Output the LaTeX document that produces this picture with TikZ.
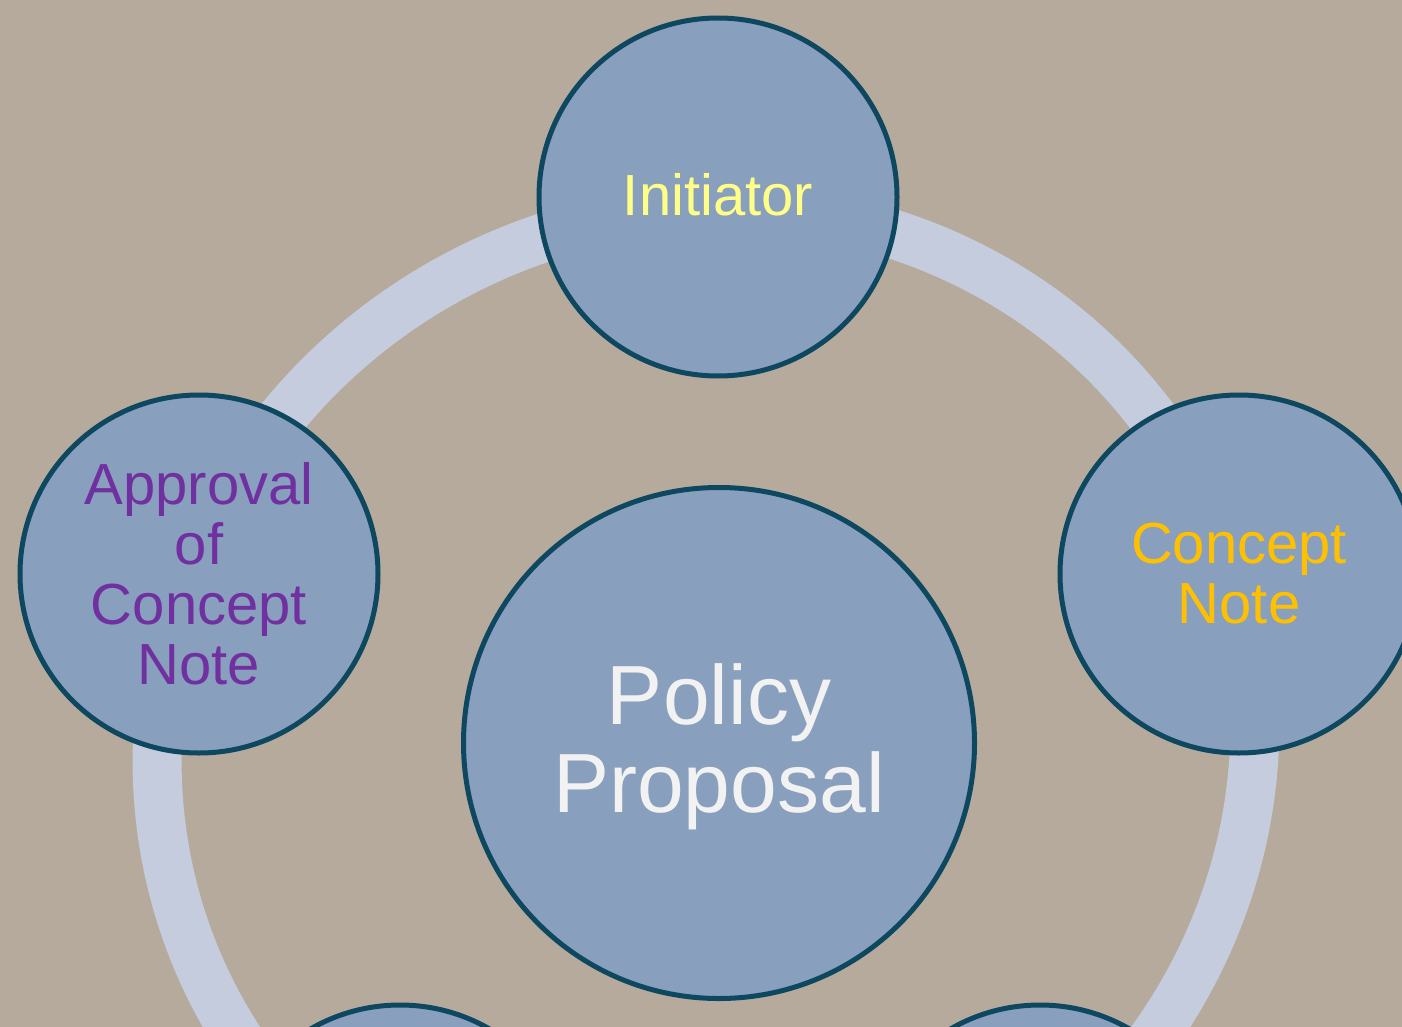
\documentclass[tikz,border=0pt]{standalone}
\usepackage{fontspec}
\setmainfont{Liberation Sans}
\definecolor{bg}{RGB}{181,170,156}
\definecolor{ringc}{RGB}{197,204,221}
\definecolor{nodefill}{RGB}{137,159,190}
\definecolor{nodeline}{RGB}{14,72,96}
\definecolor{tyellow}{RGB}{255,255,136}
\definecolor{tgold}{RGB}{255,192,0}
\definecolor{tpurple}{RGB}{112,48,160}
\definecolor{twhite}{RGB}{242,242,242}
\begin{document}
\begin{tikzpicture}[x=1pt,y=-1pt,
  bubble/.style={circle, fill=nodefill, draw=nodeline, line width=5pt, minimum size=358pt, inner sep=0pt, align=center},
  ringband/.style={draw=ringc, line width=49pt},
  smalltxt/.style={font=\fontsize{58}{60}\selectfont},
  bigtxt/.style={font=\fontsize{84}{88}\selectfont}]
\useasboundingbox (0,0) rectangle (1402,1027);
\clip (0,0) rectangle (1402,1027);
\fill[bg] (0,0) rectangle (1402,1027);
% centres
\coordinate (cI) at (718,197);
\coordinate (cC) at (1239,574);
\coordinate (cA) at (199,574);
\coordinate (cP) at (719,743);
\coordinate (cB1) at (400,1184);
\coordinate (cB2) at (1040,1184);
% ring behind the circles
\draw[ringband] plot[variable=\t, domain=0:360, samples=181, smooth]
  ({706+548.6*cos(\t)-18.7*sin(\t)}, {743+535*sin(\t)}) -- cycle;
% nodes
\node[bubble, smalltxt] (init) at (cI) {};
\node[text=tyellow, smalltxt, yshift=2pt] (initT) at (cI) {Initiator};
\node[bubble, text=tgold, smalltxt] (cnote) at (cC) {Concept\\Note};
\node[bubble, text=tpurple, smalltxt] (appr) at (cA) {Approval\\of\\Concept\\Note};
\node[bubble, minimum size=511pt] (policy) at (cP) {};
\node[text=twhite, bigtxt, align=center, yshift=-4pt] (policyT) at (cP) {Policy\\Proposal};
\node[bubble] (b1) at (cB1) {};
\node[bubble] (b2) at (cB2) {};
\end{tikzpicture}
\end{document}
